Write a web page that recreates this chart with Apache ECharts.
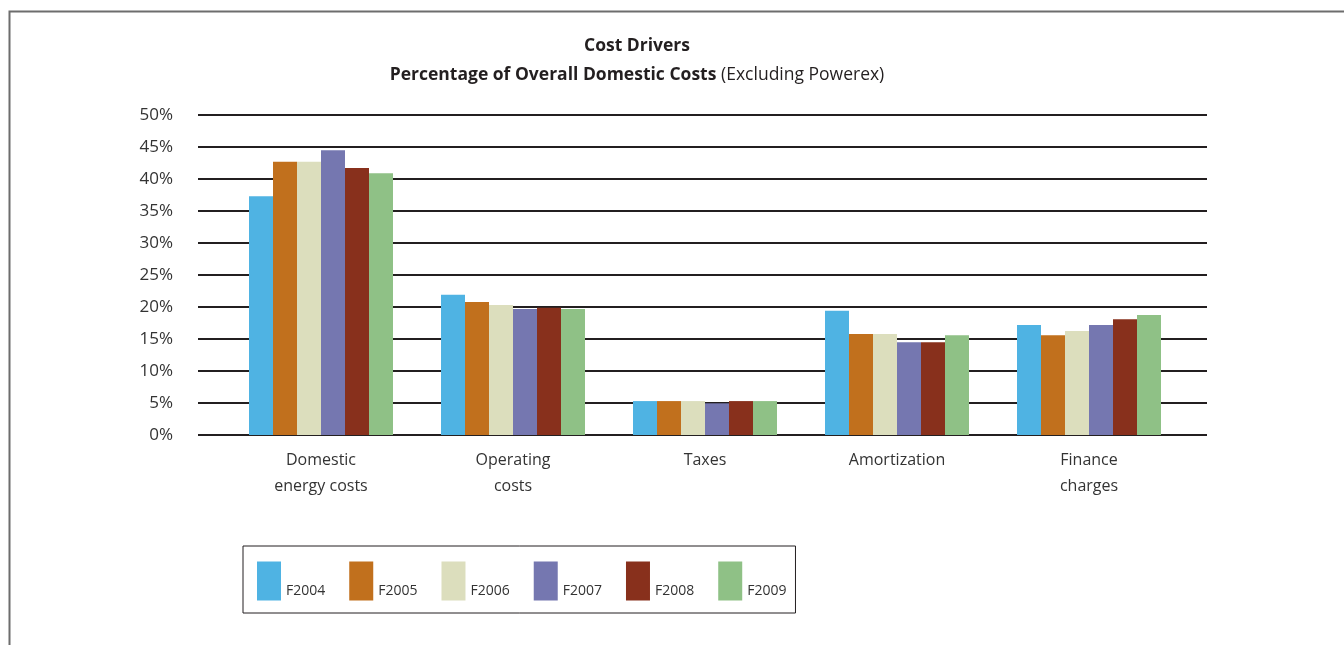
<!DOCTYPE html>
<html>
<head>
<meta charset="utf-8">
<script src="https://cdn.jsdelivr.net/npm/echarts@6/dist/echarts.min.js"></script>
<style>
html,body{margin:0;padding:0;background:#fff;}
#chart{width:1344px;height:645px;}
</style>
</head>
<body>
<div id="chart"></div>
<script>
const categories = ['Domestic\nenergy costs', 'Operating\ncosts', 'Taxes', 'Amortization', 'Finance\ncharges'];
const seriesNames = ['F2004', 'F2005', 'F2006', 'F2007', 'F2008', 'F2009'];
const F2004 = [37.3, 21.9, 5.3, 19.4, 17.2];
const F2005 = [42.7, 20.8, 5.3, 15.8, 15.6];
const F2006 = [42.7, 20.3, 5.3, 15.8, 16.25];
const F2007 = [44.5, 19.7, 4.95, 14.5, 17.2];
const F2008 = [41.7, 19.9, 5.3, 14.5, 18.1];
const F2009 = [40.9, 19.7, 5.3, 15.6, 18.75];
const seriesValues = [F2004, F2005, F2006, F2007, F2008, F2009];
const colors = ['#4fb3e3', '#c1701d', '#dcdebd', '#7577b0', '#88301c', '#8fc186'];
const yTicks = {min: 0, max: 50, interval: 5};

const FONT = 'Open Sans';
const TXT = '#333333';
const chart = echarts.init(document.getElementById('chart'));
chart.setOption({
  animation: false,
  color: colors,
  textStyle: {fontFamily: FONT},
  title: {
    left: 632, top: 27, textAlign: 'center',
    text: '{b|Cost Drivers}\n{b|Percentage of Overall Domestic Costs} {n|(Excluding Powerex)}',
    textStyle: {
      rich: {
        b: {fontFamily: FONT, fontWeight: 'bold', fontSize: 17.5, color: '#231f20', lineHeight: 29},
        n: {fontFamily: FONT, fontWeight: 'normal', fontSize: 17.5, color: '#231f20', lineHeight: 29}
      }
    }
  },
  graphic: [{
    type: 'rect', left: 7, top: 9, silent: true,
    shape: {x: 0, y: 0, width: 1400, height: 700},
    style: {fill: 'none', stroke: '#6d6d6d', lineWidth: 2}
  }],
  legend: {
    left: 243, top: 546,
    orient: 'horizontal',
    data: seriesNames,
    icon: 'rect',
    itemWidth: 24, itemHeight: 39, itemGap: 24,
    padding: [14, 9, 11, 14],
    borderColor: '#231f20', borderWidth: 1,
    formatter: name => '\n' + name,
    textStyle: {fontFamily: FONT, fontSize: 14, color: TXT, lineHeight: 21}
  },
  grid: [
    {left: 198, right: 137, top: 115, bottom: 210},
    {left: 225, right: 159, top: 115, bottom: 210}
  ],
  xAxis: [
    {type: 'category', gridIndex: 0, data: categories, show: false},
    {type: 'category', gridIndex: 1, data: categories,
     axisLine: {show: false}, axisTick: {show: false},
     axisLabel: {fontFamily: FONT, fontSize: 16, color: TXT, lineHeight: 26, margin: 12, interval: 0}}
  ],
  yAxis: [
    {type: 'value', gridIndex: 0, min: yTicks.min, max: yTicks.max, interval: yTicks.interval,
     axisLine: {show: false}, axisTick: {show: false},
     axisLabel: {formatter: '{value}%', fontFamily: FONT, fontSize: 17, color: TXT, margin: 25},
     splitLine: {show: true, lineStyle: {color: '#231f20', width: 2}}},
    {type: 'value', gridIndex: 1, min: yTicks.min, max: yTicks.max, interval: yTicks.interval, show: false}
  ],
  series: seriesNames.map((name, i) => ({
    name: name, type: 'bar', xAxisIndex: 1, yAxisIndex: 1,
    data: seriesValues[i], barGap: 0, barCategoryGap: '25%',
    itemStyle: {color: colors[i]}
  }))
});
</script>
</body>
</html>
